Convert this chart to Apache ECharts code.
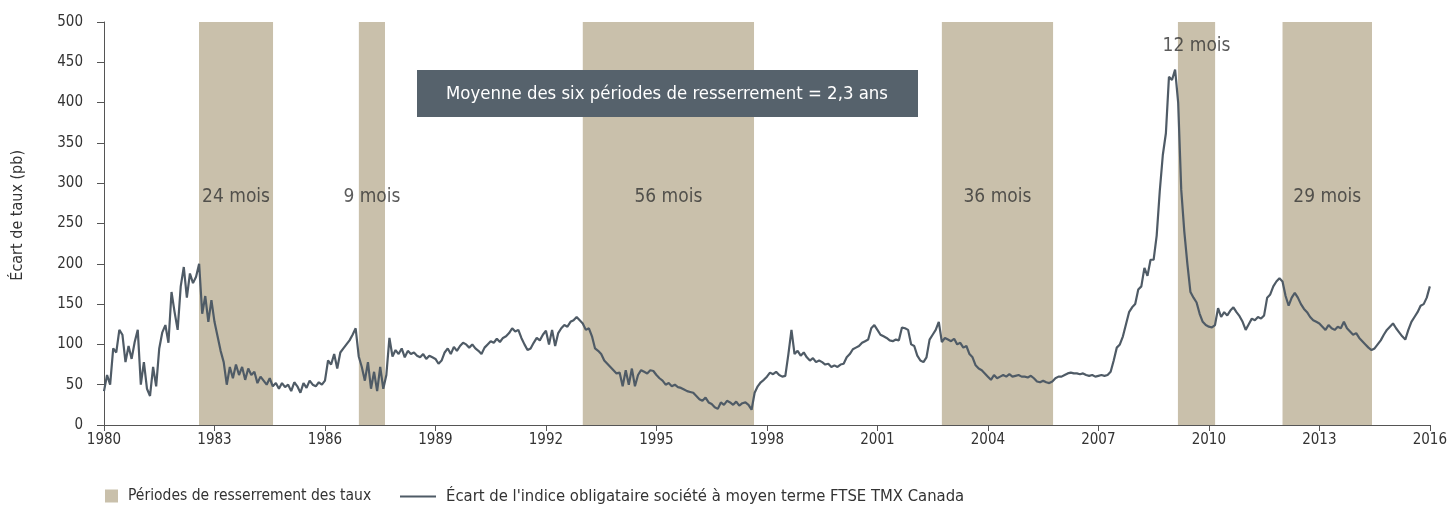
<!DOCTYPE html>
<html>
<head>
<meta charset="utf-8">
<script src="https://cdn.jsdelivr.net/npm/echarts@6/dist/echarts.min.js"></script>
<style>
  html, body { margin: 0; padding: 0; background: #fff; }
  #chart { width: 1450px; height: 510px; }
</style>
</head>
<body>
<div id="chart"></div>
<script>
// écart mensuel (pb), janvier 1980 -> janvier 2016
var startYear = 1980;
var spread = [
  // 1980
  42, 62, 50, 95, 90, 118, 112, 78, 98, 82, 103, 118,
  // 1981
  50, 78, 45, 36, 72, 48, 95, 115, 124, 102, 165, 140,
  // 1982
  118, 172, 196, 158, 188, 176, 184, 200, 138, 160, 128, 155,
  // 1983
  128, 110, 92, 78, 50, 72, 58, 75, 62, 72, 56, 70,
  // 1984
  62, 66, 52, 60, 55, 50, 58, 48, 52, 45, 52, 47,
  // 1985
  50, 42, 53, 48, 40, 52, 46, 55, 50, 48, 53, 50,
  // 1986
  55, 80, 75, 88, 70, 90, 95, 100, 105, 112, 120, 85,
  // 1987
  72, 55, 78, 45, 66, 42, 72, 45, 62, 108, 85, 93,
  // 1988
  88, 95, 84, 92, 88, 90, 86, 84, 88, 82, 86, 84,
  // 1989
  82, 76, 80, 90, 95, 88, 97, 92, 98, 102, 100, 96,
  // 1990
  100, 95, 92, 88, 96, 100, 104, 102, 107, 103, 108, 110,
  // 1991
  114, 120, 116, 118, 108, 100, 93, 95, 102, 108, 105, 112,
  // 1992
  117, 100, 118, 98, 114, 120, 124, 122, 128, 130, 134, 130,
  // 1993
  126, 118, 120, 110, 95, 92, 88, 80, 76, 72, 68, 64,
  // 1994
  65, 48, 68, 50, 70, 48, 62, 68, 66, 64, 68, 67,
  // 1995
  62, 58, 55, 50, 52, 48, 50, 47, 46, 44, 42, 41,
  // 1996
  40, 36, 32, 30, 34, 28, 26, 22, 20, 28, 25, 30,
  // 1997
  28, 25, 29, 24, 27, 28, 25, 19, 40, 48, 53, 56,
  // 1998
  60, 65, 63, 66, 62, 60, 61, 88, 118, 88, 92, 86,
  // 1999
  90, 84, 80, 83, 78, 80, 78, 75, 76, 72, 74, 72,
  // 2000
  75, 76, 84, 88, 94, 96, 98, 102, 104, 106, 120, 124,
  // 2001
  118, 112, 110, 108, 105, 104, 106, 105, 121, 120, 118, 100,
  // 2002
  98, 86, 80, 78, 84, 106, 112, 118, 128, 103, 108, 106,
  // 2003
  104, 107, 100, 102, 96, 98, 88, 84, 74, 70, 68, 64,
  // 2004
  60, 56, 62, 58, 60, 62, 60, 63, 60, 61, 62, 60,
  // 2005
  60, 59, 61, 58, 54, 53, 55, 53, 52, 54, 58, 60,
  // 2006
  60, 62, 64, 65, 64, 64, 63, 64, 62, 61, 62, 60,
  // 2007
  61, 62, 61, 62, 66, 80, 96, 100, 110, 125, 140, 146,
  // 2008
  150, 168, 172, 195, 185, 205, 205, 235, 290, 335, 362, 432,
  // 2009
  428, 441, 400, 292, 240, 200, 165, 158, 152, 138, 128, 124,
  // 2010
  122, 121, 124, 145, 134, 140, 136, 142, 146, 140, 135, 128,
  // 2011
  118, 125, 132, 130, 134, 132, 136, 158, 162, 172, 178, 182,
  // 2012
  178, 160, 148, 158, 164, 158, 150, 144, 140, 134, 130, 128,
  // 2013
  126, 122, 118, 124, 120, 118, 122, 120, 128, 120, 116, 112,
  // 2014
  114, 108, 104, 100, 96, 93, 95, 100, 105, 112, 118, 122,
  // 2015
  126, 120, 115, 110, 106, 118, 128, 134, 140, 148, 150, 158,
  // 2016
  172
];

// périodes de resserrement (années décimales)
var bandStart = [1982.58, 1986.92, 1993.0, 2002.75, 2009.16, 2012.0];
var bandEnd = [1984.59, 1987.63, 1997.65, 2005.77, 2010.17, 2014.43];
var bandLabels = ['24 mois', '9 mois', '56 mois', '36 mois', '12 mois', '29 mois'];

var yearTicks = [1980, 1983, 1986, 1989, 1992, 1995, 1998, 2001, 2004, 2007, 2010, 2013, 2016];

var FONT = "'Liberation Sans Narrow', 'DejaVu Sans Condensed', sans-serif";
var TXT = '#333';
var BAND = '#c9c0ab';
var LINE = '#4f5b66';

var lineData = [];
for (var i = 0; i < spread.length; i++) {
    lineData.push([startYear + i / 12, spread[i]]);
}

var areas = [];
var labelData = [];
for (var j = 0; j < bandStart.length; j++) {
    areas.push([{ xAxis: bandStart[j] }, { xAxis: bandEnd[j] }]);
    // l'étiquette de 12 mois est placée au-dessus du pic
    labelData.push({
        value: [(bandStart[j] + bandEnd[j]) / 2, j === 4 ? 470 : 283],
        label: { formatter: bandLabels[j] }
    });
}

var myChart = echarts.init(document.getElementById('chart'));

var option = {
    animation: false,
    textStyle: { fontFamily: FONT },
    grid: { left: 104, right: 20, top: 22, bottom: 85 },
    legend: [
        {
            data: [{ name: 'Périodes de resserrement des taux', icon: 'rect' }],
            left: 105, top: 488, padding: 0,
            itemWidth: 13, itemHeight: 13,
            textStyle: { fontFamily: FONT, fontSize: 15.5, color: TXT, padding: [0, 0, 0, 5] }
        },
        {
            data: [{ name: "Écart de l'indice obligataire société à moyen terme FTSE TMX Canada",
                     icon: 'path://M0,0L36,0L36,2L0,2Z' }],
            left: 400, top: 488, padding: 0,
            itemWidth: 36, itemHeight: 13,
            textStyle: { fontFamily: FONT, fontSize: 16.5, color: TXT, padding: [0, 0, 0, 5] }
        }
    ],
    xAxis: {
        type: 'value',
        min: 1980, max: 2016, interval: 3,
        axisLine: { lineStyle: { color: '#555', width: 1 } },
        axisTick: { show: true, length: 6, lineStyle: { color: '#555' } },
        axisLabel: {
            color: TXT, fontSize: 15, margin: 8,
            formatter: function (v) { return yearTicks.indexOf(v) >= 0 ? String(v) : ''; }
        },
        splitLine: { show: false }
    },
    yAxis: {
        type: 'value',
        min: 0, max: 500, interval: 50,
        axisLine: { show: true, lineStyle: { color: '#555', width: 1 } },
        axisTick: { show: true, length: 7, lineStyle: { color: '#555' } },
        axisLabel: { color: TXT, fontSize: 15, margin: 21 },
        splitLine: { show: false }
    },
    graphic: [
        {
            type: 'text',
            left: 10, top: 150,
            rotation: Math.PI / 2,
            style: { text: 'Écart de taux (pb)', font: '16px ' + FONT, fill: TXT }
        },
        {
            type: 'group',
            left: 417, top: 70,
            z: 100,
            children: [
                { type: 'rect', z: 100, shape: { x: 0, y: 0, width: 501, height: 47 }, style: { fill: '#56626c' } },
                {
                    type: 'text', z: 101, x: 250, y: 24,
                    style: {
                        text: 'Moyenne des six périodes de resserrement = 2,3 ans',
                        font: '18.4px ' + FONT, fill: '#fff', align: 'center', verticalAlign: 'middle'
                    }
                }
            ]
        }
    ],
    series: [
        {
            name: 'Périodes de resserrement des taux',
            type: 'line',
            data: [],
            itemStyle: { color: BAND },
            markArea: {
                silent: true,
                itemStyle: { color: BAND, opacity: 1 },
                data: areas
            }
        },
        {
            name: "Écart de l'indice obligataire société à moyen terme FTSE TMX Canada",
            type: 'line',
            data: lineData,
            symbol: 'none',
            itemStyle: { color: LINE },
            lineStyle: { color: LINE, width: 2.2 },
            z: 3
        },
        {
            type: 'scatter',
            data: labelData,
            symbolSize: 0,
            silent: true,
            label: { show: true, position: 'inside', color: TXT, fontSize: 19, fontFamily: FONT },
            z: 4
        }
    ]
};

myChart.setOption(option);
window.addEventListener('resize', function () {
    myChart.resize();
});
</script>
</body>
</html>
